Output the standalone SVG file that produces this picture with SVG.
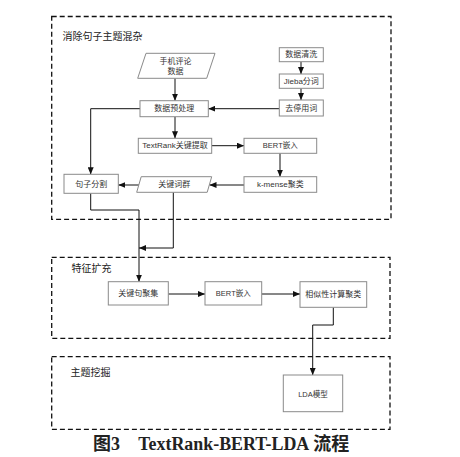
<svg xmlns="http://www.w3.org/2000/svg" width="460" height="457" viewBox="0 0 460 457">
<defs>
<marker id="arr" markerUnits="userSpaceOnUse" markerWidth="7" markerHeight="6" refX="7" refY="3" orient="auto">
<path d="M0,0 L7,3 L0,6 z" fill="#111"/>
</marker>
<style>
.frame{fill:none;stroke:#111;stroke-width:1.3;stroke-dasharray:5,3}
.box{fill:#fff;stroke:#8a8a8a;stroke-width:1}
.t{font-family:"Liberation Sans","Noto Sans CJK SC",sans-serif;font-size:8px;fill:#333;text-anchor:middle;dominant-baseline:central}
.title{font-family:"Liberation Sans","Noto Sans CJK SC",sans-serif;font-size:10px;fill:#222;dominant-baseline:central}
.c{fill:none;stroke:#111;stroke-width:1}
.ca{fill:none;stroke:#111;stroke-width:1;marker-end:url(#arr)}
.cap{font-family:"Liberation Serif","Noto Sans CJK SC",serif;font-weight:bold;font-size:18px;fill:#222}
</style>
</defs>
<rect width="460" height="457" fill="#fff"/>

<g id="frames">
<rect class="frame" x="51.7" y="16.5" width="339.3" height="202.8"/>
<text class="title" x="62.5" y="36">消除句子主题混杂</text>
<rect class="frame" x="51.7" y="257.3" width="338.3" height="81"/>
<text class="title" x="71.5" y="268.5">特征扩充</text>
<rect class="frame" x="51.7" y="356.7" width="338.3" height="72.6"/>
<text class="title" x="70.5" y="372.5">主题挖掘</text>
</g>

<g id="connectors">
<path class="ca" d="M175,78.3 V100.7"/>
<path class="ca" d="M301,61.7 V74"/>
<path class="ca" d="M301,88.3 V100"/>
<path class="ca" d="M279.3,108.7 H208.3"/>
<path class="ca" d="M140,108.7 H90.7 V174.3"/>
<path class="ca" d="M175,116.7 V138.3"/>
<path class="ca" d="M211.7,145.7 H244"/>
<path class="ca" d="M280,153.3 V176.7"/>
<path class="ca" d="M244,185 H209.5"/>
<path class="ca" d="M139,185 H118.3"/>
<path class="ca" d="M90.7,193.3 V210 H139 V281.7"/>
<path class="ca" d="M173.3,192.3 V248 H139"/>
<path class="ca" d="M168.3,294 H205"/>
<path class="ca" d="M261.7,294 H300"/>
<path class="ca" d="M333.3,307.3 V325 H312.7 V375"/>
</g>

<g id="n-phone">
<polygon class="box" points="146,53.3 215,53.3 206.7,78.3 137.7,78.3"/>
<text class="t" x="175.5" y="61.5">手机评论</text>
<text class="t" x="175.5" y="71">数据</text>
</g>
<g id="n-clean">
<rect class="box" x="279.3" y="47.7" width="44" height="14"/>
<text class="t" x="301.3" y="54.7">数据清洗</text>
</g>
<g id="n-jieba">
<rect class="box" x="279.3" y="74" width="44" height="14.3"/>
<text class="t" x="301.3" y="81.2">Jieba分词</text>
</g>
<g id="n-stop">
<rect class="box" x="279.3" y="100" width="44" height="16"/>
<text class="t" x="301.3" y="108">去停用词</text>
</g>
<g id="n-pre">
<rect class="box" x="140" y="100.7" width="68.3" height="16"/>
<text class="t" x="174.2" y="108.7">数据预处理</text>
</g>
<g id="n-textrank">
<rect class="box" x="138.3" y="138.3" width="73.4" height="15"/>
<text class="t" x="175" y="145.8">TextRank关键提取</text>
</g>
<g id="n-bert1">
<rect class="box" x="244" y="138.3" width="72.7" height="15"/>
<text class="t" x="280.3" y="145.8" style="font-size:7.5px">BERT嵌入</text>
</g>
<g id="n-kmeans">
<rect class="box" x="244" y="176.7" width="72.7" height="15.6"/>
<text class="t" x="280.3" y="184.5">k-mense聚类</text>
</g>
<g id="n-keywords">
<polygon class="box" points="141.2,176.7 211.7,176.7 207.2,192.3 136.7,192.3"/>
<text class="t" x="174.2" y="184.5">关键词群</text>
</g>
<g id="n-split">
<rect class="box" x="64" y="174.3" width="54.3" height="19"/>
<text class="t" x="91.2" y="184">句子分割</text>
</g>
<g id="n-keysent">
<rect class="box" x="108.3" y="281.7" width="60" height="23.3"/>
<text class="t" x="138.3" y="293.4">关键句聚集</text>
</g>
<g id="n-bert2">
<rect class="box" x="205" y="281.7" width="56.7" height="23.3"/>
<text class="t" x="233.3" y="293.4" style="font-size:7.5px">BERT嵌入</text>
</g>
<g id="n-sim">
<rect class="box" x="300" y="281.7" width="66.7" height="25.6"/>
<text class="t" x="333.3" y="294.5">相似性计算聚类</text>
</g>
<g id="n-lda">
<rect class="box" x="283.3" y="375" width="59.4" height="36.7"/>
<text class="t" x="313" y="394.5" style="font-size:7.5px">LDA模型</text>
</g>

<g id="caption">
<text class="cap" x="93" y="450">图3</text>
<text class="cap" x="138.3" y="450"><tspan textLength="171" lengthAdjust="spacingAndGlyphs">TextRank-BERT-LDA</tspan><tspan x="313.3">流程</tspan></text>
</g>
</svg>
